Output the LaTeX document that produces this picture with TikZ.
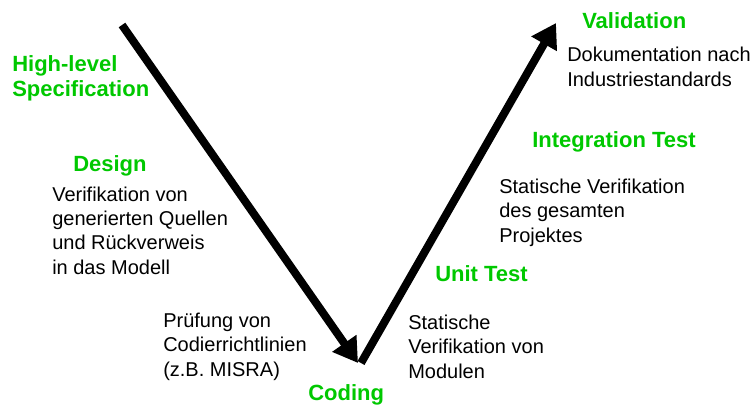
\documentclass[tikz,border=0pt]{standalone}
\usepackage{fontspec}
\setmainfont{Liberation Sans}
\usetikzlibrary{arrows.meta}
\definecolor{vgreen}{RGB}{0,200,0}
\tikzset{
  phase/.style={anchor=base west, inner sep=0pt, text=vgreen, font=\fontsize{16.5}{18.75}\selectfont\bfseries, align=left},
  desc/.style={anchor=base west, inner sep=0pt, text=black, font=\fontsize{15}{18.2}\selectfont, align=left},
  varrow/.style={line width=6pt, -{Triangle[length=18pt,width=21pt]}}
}
\begin{document}
\begin{tikzpicture}[x=0.75pt,y=-0.75pt]
\useasboundingbox (0,0) rectangle (752,408);
\coordinate (a1) at (122,25);
\coordinate (a2) at (358,363);
\coordinate (b1) at (361,363);
\coordinate (b2) at (556,23);
\draw[varrow] (a1) -- (a2);
\draw[varrow] (b1) -- (b2);

\node[phase] (hl) at (12,96) {High-level\\Specification};
\node[phase] (design) at (73,171) {Design};
\node[desc] (designtxt) at (52,274) {Verifikation von\\generierten Quellen\\und Rückverweis\\in das Modell};
\node[desc] (codetxt) at (163,376) {Prüfung von\\Codierrichtlinien\\(z.B. MISRA)};
\node[phase] (coding) at (308,400) {Coding};
\node[phase] (unit) at (435,281) {Unit Test};
\node[desc] (unittxt) at (408,378) {Statische\\Verifikation von\\Modulen};
\node[phase] (integ) at (532,147) {Integration Test};
\node[desc] (integtxt) at (499,242) {Statische Verifikation\\des gesamten\\Projektes};
\node[phase] (valid) at (582,28) {Validation};
\node[desc] (validtxt) at (567,86) {Dokumentation nach\\Industriestandards};
\end{tikzpicture}
\end{document}
